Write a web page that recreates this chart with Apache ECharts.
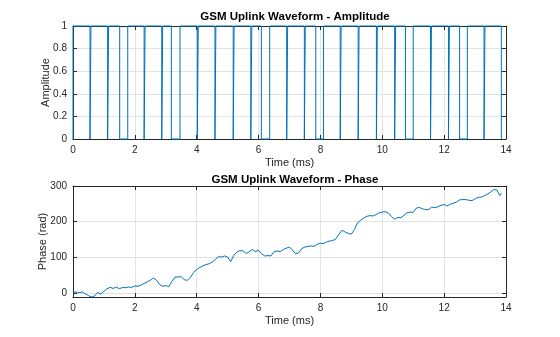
<!DOCTYPE html>
<html>
<head>
<meta charset="utf-8">
<script src="https://cdn.jsdelivr.net/npm/echarts@6/dist/echarts.min.js"></script>
<style>
html,body{margin:0;padding:0;background:#fff;}
#chart{width:560px;height:337px;}
</style>
</head>
<body>
<div id="chart"></div>
<script>
// ---- Data ----
// Amplitude: intervals (ms) where the burst amplitude drops to 0
var zeroStart = [0.55, 1.12, 1.51, 2.30, 2.87, 3.18, 4.02, 4.59, 5.18, 5.75, 6.09, 6.91, 7.48, 7.85, 8.64, 9.22, 9.81, 10.40, 10.75, 11.56, 12.14, 12.50, 13.29, 13.85];
var zeroEnd   = [0.58, 1.15, 1.77, 2.33, 2.90, 3.46, 4.05, 4.62, 5.21, 5.78, 6.36, 6.94, 7.51, 8.10, 8.67, 9.25, 9.84, 10.43, 11.00, 11.59, 12.17, 12.75, 13.32, 13.85];
var amplitudeEnd = 13.85;

// Phase (rad) vs time (ms)
var phaseTime = [0.0,0.1,0.2,0.3,0.4,0.5,0.6,0.7,0.8,0.85,0.9,1.0,1.1,1.2,1.3,1.4,1.5,1.6,1.7,1.8,1.9,2.0,2.1,2.2,2.3,2.4,2.5,2.6,2.7,2.8,2.9,3.0,3.1,3.2,3.3,3.4,3.5,3.6,3.7,3.8,3.9,4.0,4.1,4.2,4.3,4.4,4.5,4.6,4.7,4.8,4.9,5.0,5.1,5.2,5.3,5.4,5.5,5.6,5.7,5.8,5.9,6.0,6.1,6.2,6.3,6.4,6.5,6.6,6.7,6.8,6.9,7.0,7.1,7.2,7.25,7.3,7.4,7.5,7.6,7.7,7.8,7.9,8.0,8.1,8.2,8.3,8.4,8.5,8.6,8.7,8.8,8.9,9.0,9.1,9.2,9.3,9.4,9.5,9.6,9.7,9.8,9.9,10.0,10.1,10.2,10.3,10.4,10.5,10.6,10.7,10.8,10.9,11.0,11.1,11.2,11.3,11.4,11.5,11.6,11.7,11.8,11.9,12.0,12.1,12.2,12.3,12.4,12.5,12.6,12.7,12.8,12.9,13.0,13.1,13.2,13.3,13.4,13.5,13.6,13.7,13.8,13.85];
var phaseValue = [2,3,1,3,-2,-7,-11,-8,2,5,-3,5,12,16,13,17,12,16,15,17,16,20,19,22,27,31,36,42,36,24,19,21,18,33,45,45,46,37,36,44,58,66,72,76,80,82,87,94,102,101,104,101,88,106,115,119,118,111,116,122,116,120,110,104,105,104,116,118,116,122,126,129,120,110,106,113,125,129,131,132,131,137,139,139,143,146,147,152,165,176,171,167,165,178,197,204,210,215,217,216,220,225,227,228,224,214,207,212,211,218,225,227,226,238,240,236,234,234,241,239,242,246,248,244,249,252,255,261,262,262,260,259,264,268,269,273,277,283,290,289,273,280];

// Tick labels
var timeTicks = [0,2,4,6,8,10,12,14];
var ampTicks = [0,0.2,0.4,0.6,0.8,1];
var phaseTicks = [0,100,200,300];

// ---- Build series data ----
var ampData = [[0,0],[0,1]];
for (var i = 0; i < zeroStart.length; i++) {
  ampData.push([zeroStart[i],1],[zeroStart[i],0],[zeroEnd[i],0]);
  if (zeroEnd[i] < amplitudeEnd) ampData.push([zeroEnd[i],1]);
}
var phaseData = phaseTime.map(function(t,i){return [t, phaseValue[i]];});

var FONT = '"Liberation Sans", Arial, Helvetica, sans-serif';
var AX = '#262626';
var GRIDC = '#e3e3e3';
var BLUE = '#0072BD';

function xAx(gridIndex, pos, showLabel) {
  return {
    type:'value', gridIndex:gridIndex, position:pos, min:0, max:14, interval:2,
    axisLine:{show:true, onZero:false, lineStyle:{color:AX,width:1}},
    axisTick:{show:true, inside:true, length:4, lineStyle:{color:AX}},
    axisLabel:{show:showLabel, color:AX, fontSize:10, fontFamily:FONT, margin:6},
    splitLine:{show:pos==='bottom', lineStyle:{color:GRIDC,width:1}},
    name: showLabel ? 'Time (ms)' : '', nameLocation:'middle', nameGap:18, nameMoveOverlap:false,
    nameTextStyle:{color:AX, fontSize:11, fontFamily:FONT}
  };
}
function yAx(gridIndex, pos, showLabel, cfg) {
  var o = {
    type:'value', gridIndex:gridIndex, position:pos, min:cfg.min, max:cfg.max,
    axisLine:{show:true, onZero:false, lineStyle:{color:AX,width:1}},
    axisTick:{show:true, inside:true, length:4, lineStyle:{color:AX}},
    axisLabel:{show:showLabel, color:AX, fontSize:10, fontFamily:FONT, margin:6},
    splitLine:{show:pos==='left', lineStyle:{color:GRIDC,width:1}},
    name: showLabel ? cfg.name : '', nameLocation:'middle', nameGap:cfg.gap, nameRotate:90,
    nameMoveOverlap:false,
    nameTextStyle:{color:AX, fontSize:11, fontFamily:FONT}
  };
  if (cfg.interval) o.interval = cfg.interval;
  if (cfg.custom) {
    o.axisTick.customValues = cfg.custom;
    o.axisLabel.customValues = cfg.custom;
  }
  return o;
}

var ampCfg = {min:0, max:1, interval:0.2, name:'Amplitude', gap:22};
var phCfg = {min:-11, max:300, custom:phaseTicks, name:'Phase (rad)', gap:25};

var option = {
  animation:false,
  backgroundColor:'#fff',
  title:[
    {text:'GSM Uplink Waveform - Amplitude', left:290, top:6, textAlign:'center',
     textStyle:{fontSize:11.5, fontWeight:'bold', color:'#000', fontFamily:FONT}},
    {text:'GSM Uplink Waveform - Phase', left:290, top:169, textAlign:'center',
     textStyle:{fontSize:11.5, fontWeight:'bold', color:'#000', fontFamily:FONT}}
  ],
  grid:[
    {left:73, right:54, top:26, height:113},
    {left:73, right:54, top:186, height:111}
  ],
  xAxis:[xAx(0,'bottom',true), xAx(0,'top',false), xAx(1,'bottom',true), xAx(1,'top',false)],
  yAxis:[yAx(0,'left',true,ampCfg), yAx(0,'right',false,ampCfg), yAx(1,'left',true,phCfg), yAx(1,'right',false,phCfg)],
  series:[
    {type:'line', xAxisIndex:0, yAxisIndex:0, data:ampData, showSymbol:false, symbol:'none',
     lineStyle:{color:BLUE, width:1}, clip:false},
    {type:'line', xAxisIndex:2, yAxisIndex:2, data:phaseData, showSymbol:false, symbol:'none',
     lineStyle:{color:BLUE, width:1}}
  ]
};
var chart = echarts.init(document.getElementById('chart'), null, {renderer:'canvas'});
chart.setOption(option);
</script>
</body>
</html>
